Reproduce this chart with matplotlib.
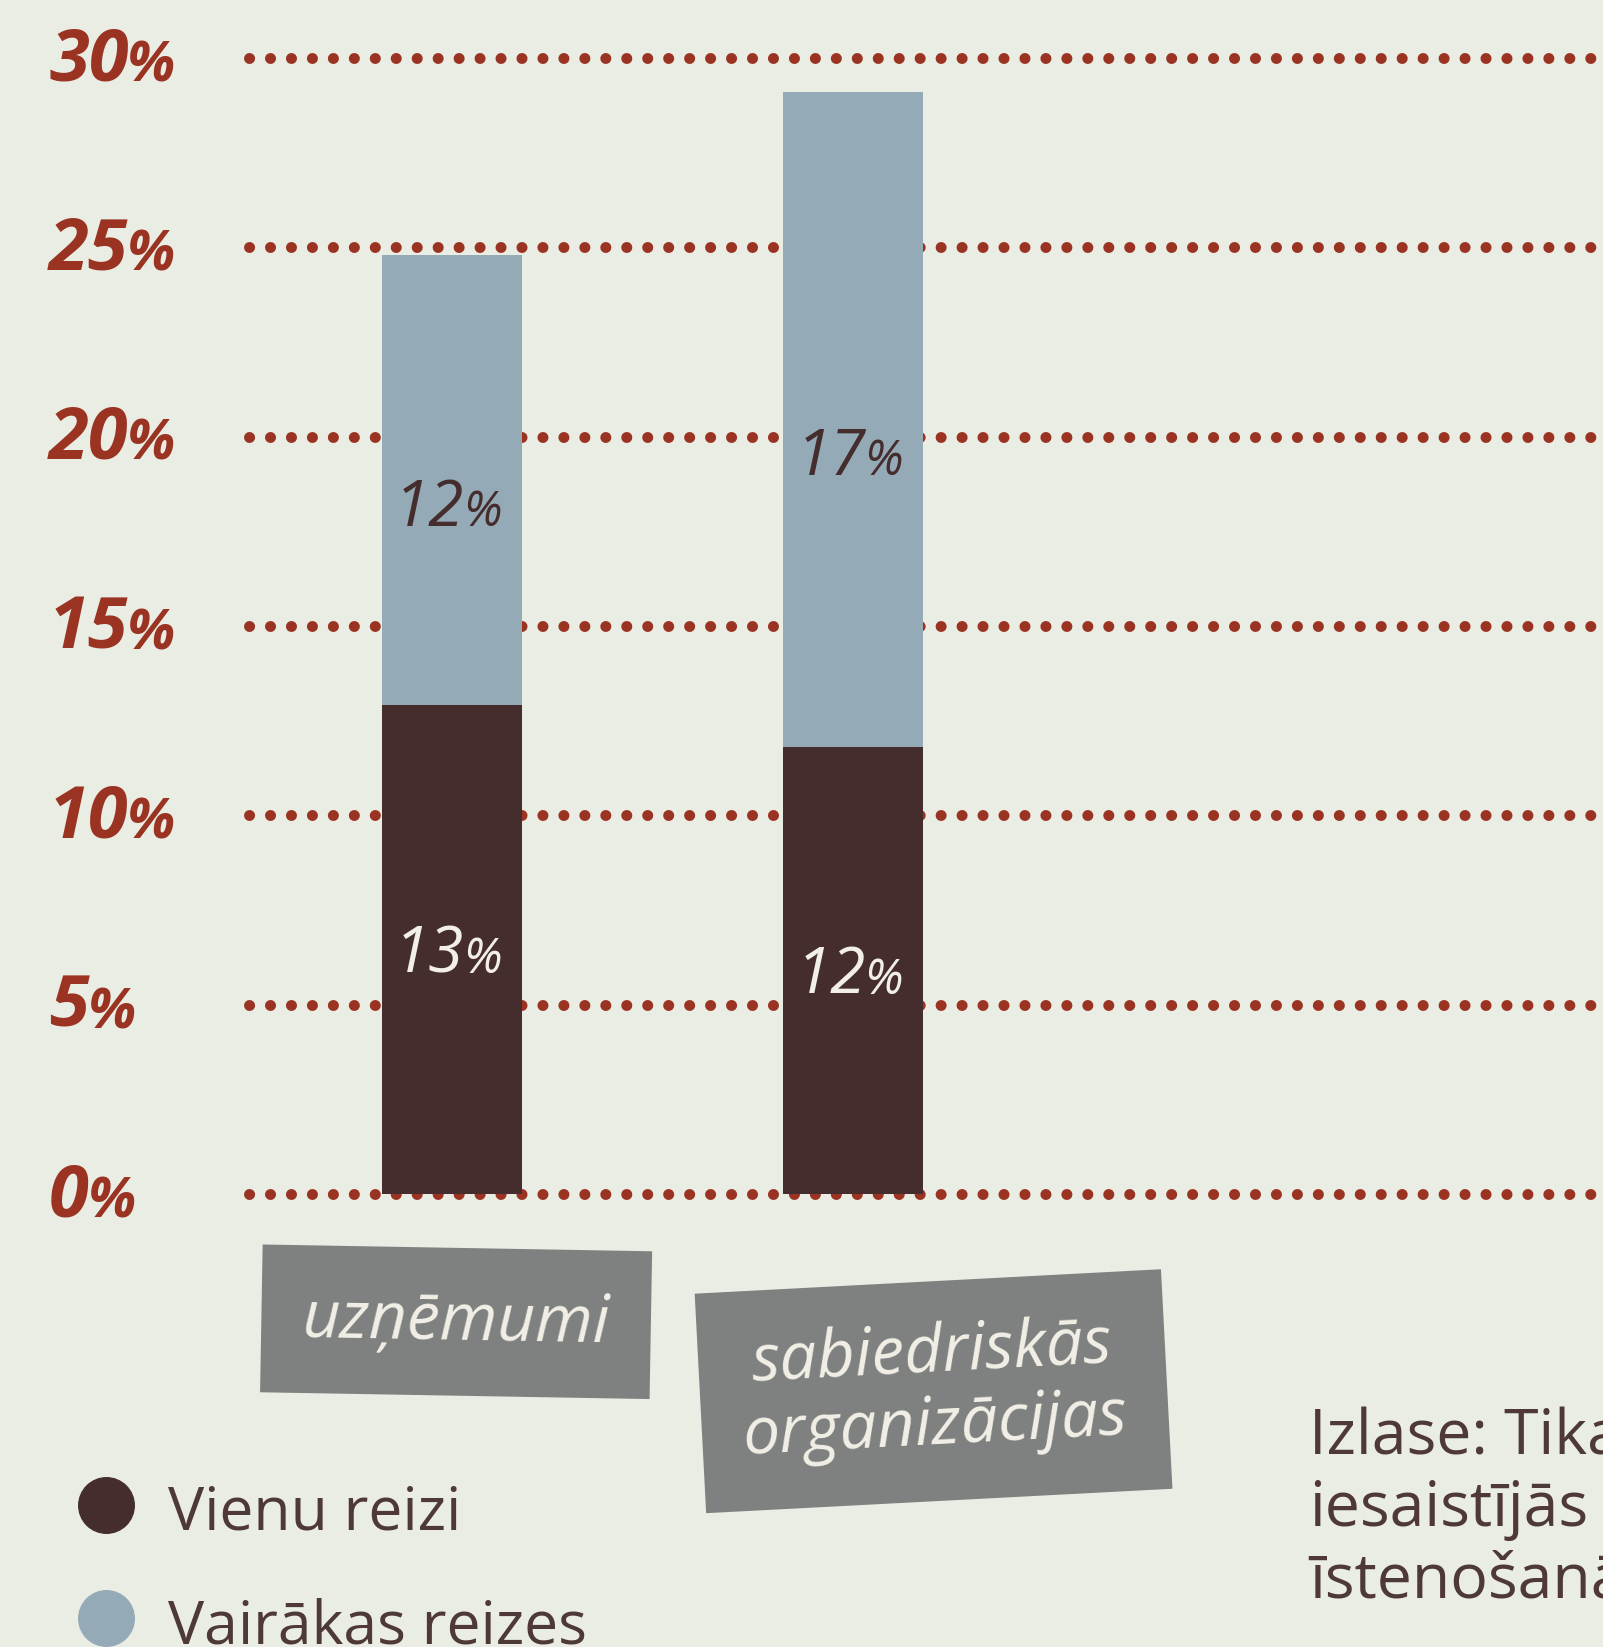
import matplotlib.pyplot as plt

plt.rcParams['font.family'] = ['Open Sans', 'Noto Sans', 'DejaVu Sans']

# data
categories = ['uzņēmumi', 'sabiedriskās\norganizācijas']
once = [12.9, 11.8]          # Vienu reizi
several = [11.9, 17.3]       # Vairākas reizes
once_labels = [13, 12]
several_labels = [12, 17]
yticks = [0, 5, 10, 15, 20, 25, 30]
legend_labels = ['Vienu reizi', 'Vairākas reizes']
note = 'Izlase: Tika\niesaistījās\nīstenošanā'

# colours
bg = '#eaede4'
red = '#9a3322'
dark = '#452d2d'
light = '#95aab7'
box_grey = '#7f8180'
pale = '#f2f0e6'
txt = '#4e3937'

W, H = 1603, 1647
fig = plt.figure(figsize=(W / 100, H / 100), dpi=100, facecolor=bg)
ax = fig.add_axes([249 / W, (H - 1194) / H, 1 - 249 / W, (1194 - 57.8) / H])
ax.set_facecolor(bg)
ax.set_xlim(-0.506, 2.870)
ax.set_ylim(0, 30)
ax.axis('off')

# dotted grid lines
for v in yticks:
    ax.axhline(v, color=red, lw=7.9, ls=(0, (0.01, 1.9)), dash_capstyle='round',
               clip_on=False, zorder=1)

x = list(range(len(categories)))
ax.bar(x, once, width=0.35, color=dark, zorder=2)
ax.bar(x, several, width=0.35, bottom=once, color=light, zorder=2)


def pct_label(xy, num, size, color, weight='normal', xycoords='data',
              ha_shift=0, base_shift=0, ratio=0.78):
    # digits, then a smaller percent sign right after
    t = ax.annotate(str(num), xy=xy, xycoords=xycoords, xytext=(ha_shift, base_shift),
                    textcoords='offset points', ha='right' if ha_shift else 'left',
                    va='baseline', fontsize=size, color=color, style='italic',
                    weight=weight, annotation_clip=False)
    ax.annotate('%', xy=(1, 0), xycoords=t, xytext=(-1, 2), textcoords='offset points',
                ha='left', va='bottom', fontsize=size * ratio, color=color,
                style='italic', weight=weight, annotation_clip=False)


# y tick labels at the far left
for v in yticks:
    pct_label((49 / W, v), v, 52, red, weight='bold',
              xycoords=('figure fraction', 'data'), base_shift=-16)

# value labels inside bars
for i in x:
    pct_label((i, once[i] / 2), once_labels[i], 46, pale, ha_shift=9,
              base_shift=-16.5, ratio=0.76)
    pct_label((i, once[i] + several[i] * 0.45), several_labels[i], 46, dark,
              ha_shift=9, base_shift=-16.5, ratio=0.76)

# category boxes
offsets = [(3, -92, -1), (58, -142, 3)]
for i, lab in enumerate(categories):
    dx, dy, rot = offsets[i]
    ax.annotate(lab, xy=(i, 0), xytext=(dx, dy), textcoords='offset points',
                ha='center', va='center', rotation=rot, fontsize=47.5, style='italic',
                color=pale, linespacing=1.12, annotation_clip=False,
                bbox=dict(boxstyle='square,pad=0.62', fc=box_grey, ec='none'))

# legend
for i, (lab, c) in enumerate(zip(legend_labels, [dark, light])):
    cy = 1505 + i * 113
    ax.plot([106 / W], [1 - cy / H], 'o', ms=40, color=c, transform=fig.transFigure,
            clip_on=False)
    fig.text(168 / W, 1 - (cy + 25) / H, lab, va='baseline', fontsize=43.7, color=txt)

# sample note (runs off the right edge); baseline of the last line
fig.text(1309 / W, 1 - 1597 / H, note, va='baseline', fontsize=45, color=txt,
         linespacing=1.18)

fig.savefig('out.png', dpi=100, facecolor=bg)
